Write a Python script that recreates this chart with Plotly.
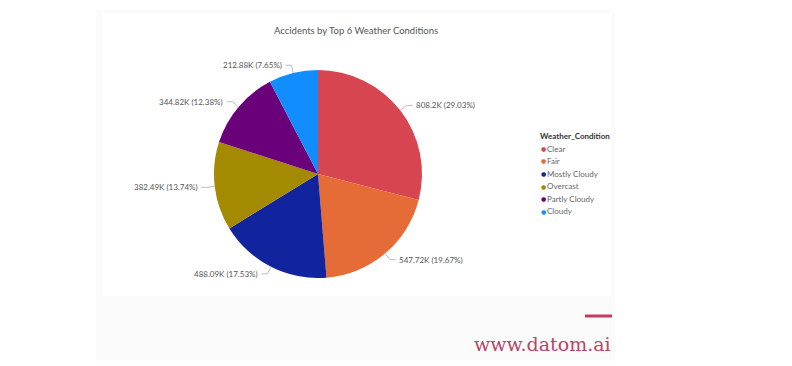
import math
import plotly.graph_objects as go

# ---- data ----
conditions = ["Clear", "Fair", "Mostly Cloudy", "Overcast", "Partly Cloudy", "Cloudy"]
accidents_k = [808.2, 547.72, 488.09, 382.49, 344.82, 212.88]
colors = ["#D64550", "#E66C37", "#12239E", "#A38A00", "#6B007B", "#118DFF"]
title_text = "Accidents by Top 6 Weather Conditions"
legend_title = "Weather_Condition"
brand_text = "www.datom.ai"

W, H = 792, 366
CX, CY, R = 318, 174, 104  # pie centre / radius in pixels


def px(x):
    return x / W


def py(y):
    return 1 - y / H


def fmt_k(v):
    s = f"{v:.2f}".rstrip("0").rstrip(".")
    return s + "K"


total = sum(accidents_k)
pcts = [v / total * 100 for v in accidents_k]
labels = [f"{fmt_k(v)} ({p:.2f}%)" for v, p in zip(accidents_k, pcts)]

fig = go.Figure()

fig.add_trace(go.Pie(
    labels=conditions,
    values=accidents_k,
    marker=dict(colors=colors, line=dict(width=0)),
    sort=False,
    direction="clockwise",
    rotation=0,
    textinfo="none",
    hoverinfo="label+value+percent",
    showlegend=False,
    domain=dict(x=[px(CX - R), px(CX + R)], y=[py(CY + R), py(CY - R)]),
))

shapes = []
annotations = []

# background panels
shapes.append(dict(type="rect", xref="paper", yref="paper",
                   x0=px(96), x1=px(615), y0=py(361), y1=py(10),
                   fillcolor="#FBFBFB", line=dict(width=0), layer="below"))
shapes.append(dict(type="rect", xref="paper", yref="paper",
                   x0=px(102), x1=px(612), y0=py(296), y1=py(13),
                   fillcolor="#FFFFFF", line=dict(width=0), layer="below"))

# leader lines + labels derived from slice mid-angles
cum = 0.0
for lab, v in zip(labels, accidents_k):
    mid = (cum + v / 2) / total * 2 * math.pi
    cum += v
    s, c = math.sin(mid), math.cos(mid)
    ex, ey = CX + R * s, CY - R * c
    bx, by = CX + (R + 8) * s, CY - (R + 8) * c
    side = 1 if s >= 0 else -1
    hx = bx + 6 * side
    shapes.append(dict(type="path", xref="paper", yref="paper",
                       path=f"M {px(ex)},{py(ey)} L {px(bx)},{py(by)} L {px(hx)},{py(by)}",
                       line=dict(color="#BDBDBD", width=1)))
    annotations.append(dict(xref="paper", yref="paper", x=px(hx + 1 * side), y=py(by),
                            text=lab, showarrow=False,
                            xanchor="left" if side > 0 else "right", yanchor="middle",
                            font=dict(family="Lato", size=8, color="#555555")))

# title
annotations.append(dict(xref="paper", yref="paper", x=px(356), y=py(31), text=title_text,
                        showarrow=False, xanchor="center", yanchor="middle",
                        font=dict(family="Lato", size=9.5, color="#555555")))

# manual legend
annotations.append(dict(xref="paper", yref="paper", x=px(538), y=py(136),
                        text=f"<b>{legend_title}</b>", showarrow=False,
                        xanchor="left", yanchor="middle",
                        font=dict(family="Lato", size=8, color="#333333")))
for i, (name, col) in enumerate(zip(conditions, colors)):
    yy = 148.5 + i * 12.5
    annotations.append(dict(xref="paper", yref="paper", x=px(538.5), y=py(yy),
                            text="●", showarrow=False, xanchor="left", yanchor="middle",
                            font=dict(family="DejaVu Sans", size=6, color=col)))
    annotations.append(dict(xref="paper", yref="paper", x=px(545), y=py(yy),
                            text=name, showarrow=False, xanchor="left", yanchor="middle",
                            font=dict(family="Lato", size=8, color="#666666")))

# brand
shapes.append(dict(type="line", xref="paper", yref="paper",
                   x0=px(585), x1=px(612), y0=py(316), y1=py(316),
                   line=dict(color="#C33B5E", width=3)))
annotations.append(dict(xref="paper", yref="paper", x=px(613), y=py(344), text=brand_text,
                        showarrow=False, xanchor="right", yanchor="middle",
                        font=dict(family="DejaVu Serif", size=19, color="#BA4565")))

fig.update_layout(
    width=W, height=H,
    margin=dict(l=0, r=0, t=0, b=0),
    paper_bgcolor="#FFFFFF",
    plot_bgcolor="#FFFFFF",
    shapes=shapes,
    annotations=annotations,
    showlegend=False,
)

fig.write_html("out.html")
